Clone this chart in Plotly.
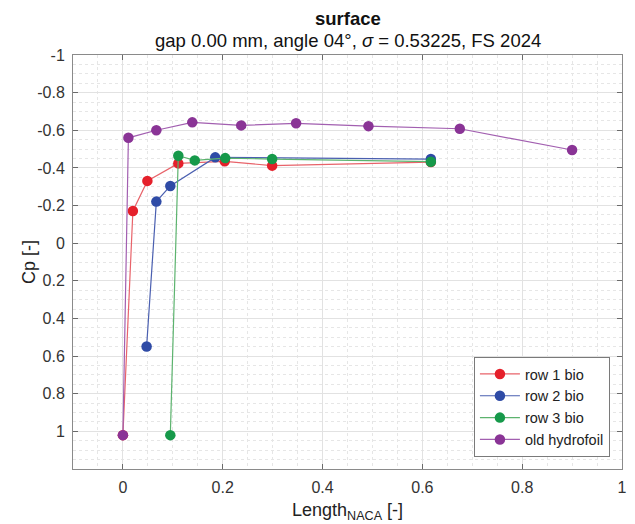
import plotly.graph_objects as go

# ---- data ----
row1_x = [0.0, 0.020, 0.049, 0.111, 0.204, 0.299, 0.617]
row1_y = [1.02, -0.171, -0.331, -0.424, -0.435, -0.412, -0.431]

row2_x = [0.0475, 0.067, 0.095, 0.185, 0.617]
row2_y = [0.549, -0.221, -0.304, -0.456, -0.447]

row3_x = [0.095, 0.111, 0.144, 0.205, 0.299, 0.617]
row3_y = [1.02, -0.465, -0.440, -0.452, -0.447, -0.433]

old_x = [0.0, 0.011, 0.067, 0.139, 0.237, 0.347, 0.492, 0.675, 0.900]
old_y = [1.02, -0.560, -0.600, -0.642, -0.626, -0.637, -0.622, -0.608, -0.495]

x_ticks = [0, 0.2, 0.4, 0.6, 0.8, 1]
x_ticklabels = ["0", "0.2", "0.4", "0.6", "0.8", "1"]
y_ticks = [-1, -0.8, -0.6, -0.4, -0.2, 0, 0.2, 0.4, 0.6, 0.8, 1]
y_ticklabels = ["-1", "-0.8", "-0.6", "-0.4", "-0.2", "0", "0.2", "0.4", "0.6", "0.8", "1"]

series = [
    ("row 1 bio", row1_x, row1_y, "#e8636a", "#e5202b"),
    ("row 2 bio", row2_x, row2_y, "#4a5fb0", "#2f4ba6"),
    ("row 3 bio", row3_x, row3_y, "#5cb36e", "#16994a"),
    ("old hydrofoil", old_x, old_y, "#a25fb0", "#8a3496"),
]

FONT = "Liberation Sans, Arial, sans-serif"

fig = go.Figure()
for name, xs, ys, lc, mc in series:
    fig.add_trace(go.Scatter(
        x=xs, y=ys, name=name, mode="lines+markers",
        line=dict(color=lc, width=1.2),
        marker=dict(color=mc, size=10.5, line=dict(width=0)),
    ))

axis_common = dict(
    showline=True, linecolor="#8a8a8a", linewidth=1, mirror="ticks",
    ticks="inside", ticklen=5, tickcolor="#6a6a6a",
    showgrid=True, gridcolor="#e2e2e2", gridwidth=1,
    zeroline=False, automargin=False,
    tickfont=dict(family=FONT, size=16, color="#333333"),
)

fig.update_xaxes(
    range=[-0.1, 1.0], tickvals=x_ticks, ticktext=x_ticklabels,
    minor=dict(dtick=0.05, tick0=0, showgrid=True, gridcolor="#e6e6e6",
               griddash="dot", ticks=""),
    ticklabelstandoff=4,
    **axis_common,
)
fig.update_yaxes(
    range=[1.2, -1.0], tickvals=y_ticks, ticktext=y_ticklabels,
    minor=dict(dtick=0.05, tick0=0, showgrid=True, gridcolor="#e6e6e6",
               griddash="dot", ticks=""),
    ticklabelstandoff=4,
    **axis_common,
)

# page body has an 8px default margin
OFF = 8
PLOT_H = 414
PLOT_W = 549
fig.update_layout(
    width=635 - OFF, height=524 - OFF,
    margin=dict(l=73 - OFF, r=13, t=55 - OFF, b=55, pad=0),
    paper_bgcolor="white", plot_bgcolor="white",
    font=dict(family=FONT, color="#222222"),
    showlegend=True,
    legend=dict(
        x=0.978, y=0.029, xanchor="right", yanchor="bottom",
        bgcolor="white", bordercolor="#7a7a7a", borderwidth=1,
        font=dict(family=FONT, size=14.5, color="#222222"),
        tracegroupgap=0, itemwidth=40,
    ),
    annotations=[
        dict(text="<b>surface</b>", xref="paper", yref="paper",
             x=0.5, y=1 + (55 - 18) / PLOT_H, xanchor="center", yanchor="middle",
             showarrow=False, font=dict(family=FONT, size=18.5, color="#111111")),
        dict(text="gap 0.00 mm, angle 04°, <i>σ</i> = 0.53225, FS 2024",
             xref="paper", yref="paper",
             x=0.5, y=1 + (55 - 40) / PLOT_H, xanchor="center", yanchor="middle",
             showarrow=False, font=dict(family=FONT, size=18.5, color="#111111")),
        dict(text="Length<sub>NACA</sub> [-]", xref="paper", yref="paper",
             x=0.5, y=-(511 - 469) / PLOT_H, xanchor="center", yanchor="middle",
             showarrow=False, font=dict(family=FONT, size=18, color="#222222")),
        dict(text="Cp [-]", xref="paper", yref="paper", textangle=-90,
             x=-(73 - 29) / PLOT_W, y=0.5, xanchor="center", yanchor="middle",
             showarrow=False, font=dict(family=FONT, size=18, color="#222222")),
    ],
)

fig.write_html("out.html")
